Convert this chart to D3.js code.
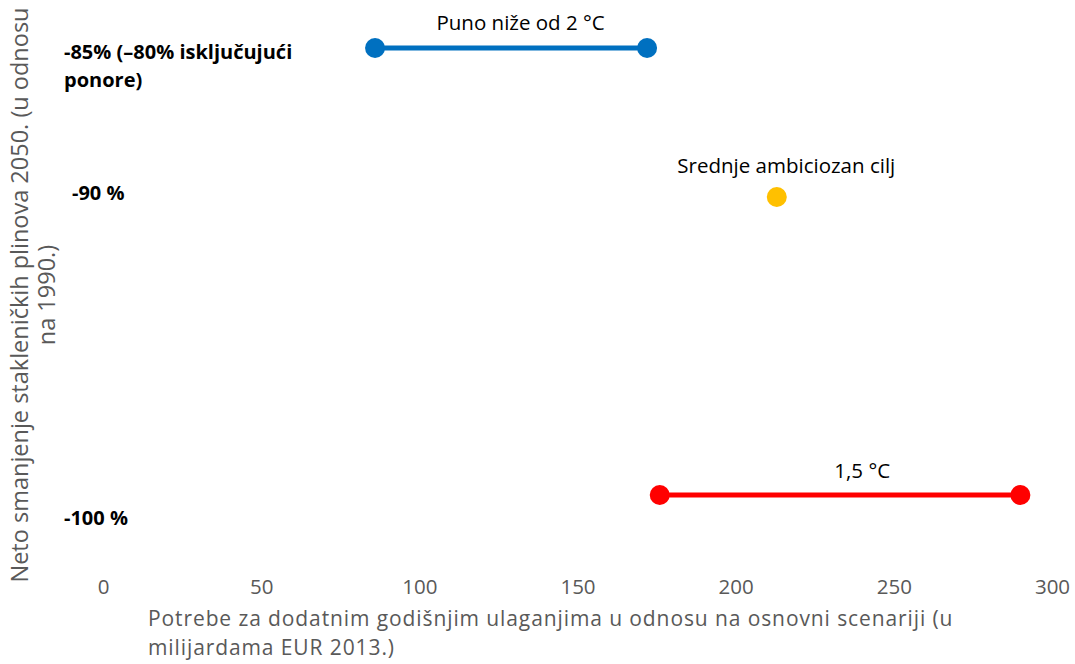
<!DOCTYPE html>
<html>
<head>
<meta charset="utf-8">
<script src="https://cdn.jsdelivr.net/npm/d3@7"></script>
<style>
  body { margin: 0; background: #fff; }
  text { font-family: "Open Sans", "Liberation Sans", sans-serif; }
</style>
</head>
<body>
<div id="chart"></div>
<script>
// scenarios: investment range (bn EUR 2013) vs net GHG reduction in 2050
var scenarios = ["Puno niže od 2 °C", "Srednje ambiciozan cilj", "1,5 °C"];
var invStart = [86, 213, 176];
var invEnd = [172, 213, 290];
var reduction = [-85, -90, -100];
var colors = ["#0070C0", "#FFC000", "#FF0000"];

var xTicks = [0, 50, 100, 150, 200, 250, 300];
var yLabels = [["-85% (–80% isključujući", "ponore)"], ["-90 %"], ["-100 %"]];

var width = 1075, height = 664;

var svg = d3.select("#chart").append("svg")
    .attr("width", width)
    .attr("height", height);

var x = d3.scaleLinear().domain([0, 300]).range([103, 1052]);
var y = d3.scaleLinear().domain([-100, -85]).range([495, 48]);

// x axis, labels only
var xAxis = svg.append("g")
    .attr("transform", "translate(0,587)")
    .call(d3.axisBottom(x).tickValues(xTicks).tickSize(0).tickPadding(0));
xAxis.select(".domain").remove();
xAxis.selectAll("text")
    .attr("dy", "0.35em")
    .style("font-size", "20.5px")
    .style("fill", "#595959");

// category labels on the left (placed like data labels)
var labelX = [64, 72, 64];
var labelDy = [4, -4, 23];
yLabels.forEach(function (lines, i) {
    var t = svg.append("text")
        .attr("x", labelX[i])
        .attr("y", y(reduction[i]) + labelDy[i])
        .style("font-size", "20px")
        .style("font-weight", "bold")
        .style("fill", "#000");
    lines.forEach(function (l, j) {
        t.append("tspan")
            .attr("x", labelX[i])
            .attr("dy", j === 0 ? "0.35em" : "28px")
            .text(l);
    });
});

// range lines
var g = svg.append("g");
scenarios.forEach(function (s, i) {
    if (invEnd[i] !== invStart[i]) {
        g.append("line")
            .attr("x1", x(invStart[i]))
            .attr("x2", x(invEnd[i]))
            .attr("y1", y(reduction[i]))
            .attr("y2", y(reduction[i]))
            .style("stroke", colors[i])
            .style("stroke-width", 5);
    }
    var pts = invEnd[i] !== invStart[i] ? [invStart[i], invEnd[i]] : [invStart[i]];
    g.selectAll(null)
        .data(pts)
        .enter()
        .append("circle")
        .attr("cx", function (d) { return x(d); })
        .attr("cy", y(reduction[i]))
        .attr("r", 10)
        .style("fill", colors[i]);
});

// scenario names above
var nameOffset = [-25, -31, -24];
var nameCenter = [132, 216, 240];
scenarios.forEach(function (s, i) {
    svg.append("text")
        .attr("x", x(nameCenter[i]))
        .attr("y", y(reduction[i]) + nameOffset[i])
        .attr("dy", "0.35em")
        .attr("text-anchor", "middle")
        .style("font-size", "20.5px")
        .style("fill", "#000")
        .text(s);
});

// axis titles
var xTitle = svg.append("text")
    .attr("y", 619)
    .style("font-size", "21px")
    .style("letter-spacing", "0.9px")
    .style("fill", "#595959");
xTitle.append("tspan").attr("x", 148).attr("dy", "0.35em")
    .text("Potrebe za dodatnim godišnjim ulaganjima u odnosu na osnovni scenariji (u");
xTitle.append("tspan").attr("x", 148).attr("dy", "29px")
    .text("milijardama EUR 2013.)");

var yTitle = svg.append("text")
    .attr("transform", "translate(20,295) rotate(-90)")
    .attr("text-anchor", "middle")
    .style("font-size", "23.5px")
    .style("fill", "#595959");
yTitle.append("tspan").attr("x", 0).attr("dy", "0.35em")
    .text("Neto smanjenje stakleničkih plinova 2050. (u odnosu");
yTitle.append("tspan").attr("x", 0).attr("dy", "27px")
    .text("na 1990.)");
</script>
</body>
</html>
